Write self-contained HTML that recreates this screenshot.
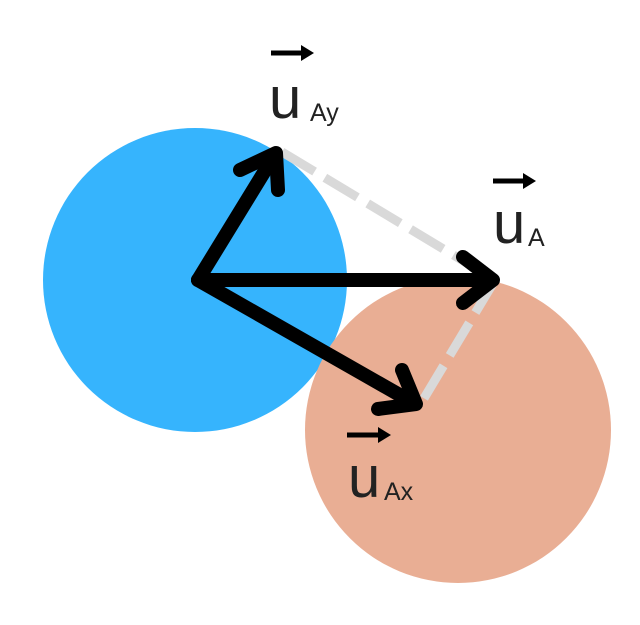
<!DOCTYPE html>
<html><head><style>
body{margin:0;background:#fff;}
svg{display:block}
text{font-family:"Liberation Sans",sans-serif;fill:#222;}
</style></head><body>
<svg width="640" height="625" viewBox="0 0 640 625">
<circle cx="195" cy="280" r="152" fill="#36b4fd"/>
<circle cx="458" cy="430" r="153" fill="#e9ae94"/>
<g stroke="#d9d9d9" stroke-width="9" stroke-dasharray="38,12" fill="none">
<line x1="282" y1="152" x2="495" y2="280"/>
<line x1="495" y1="280" x2="423" y2="400"/>
</g>
<g stroke="#000" stroke-width="14" stroke-linecap="round" stroke-linejoin="round" fill="none">
<line x1="198" y1="280" x2="490" y2="280"/>
<polyline points="463,257 493,280 463,303"/>
<line x1="198" y1="280" x2="274" y2="156"/>
<polyline points="240,170 276,153 278,190"/>
<line x1="198" y1="280" x2="412" y2="402"/>
<polyline points="378,409 416,404 402,370"/>
</g>
<g stroke="#000" stroke-width="5">
<line x1="271" y1="53" x2="304" y2="53"/>
<line x1="493" y1="181" x2="526" y2="181"/>
<line x1="347" y1="435" x2="381" y2="435"/>
</g>
<g fill="#000">
<polygon points="301,45 314,53 301,61"/>
<polygon points="523,173 536,181 523,189"/>
<polygon points="378,427 391,435 378,443"/>
</g>
<text x="269" y="118" font-size="58" font-weight="300">u</text>
<text x="310" y="121" font-size="25" fill="#444">Ay</text>
<text x="493" y="243" font-size="58">u</text>
<text x="528" y="246" font-size="25" fill="#444">A</text>
<text x="348" y="497" font-size="58">u</text>
<text x="384" y="500" font-size="25" fill="#444">Ax</text>
</svg>
</body></html>
